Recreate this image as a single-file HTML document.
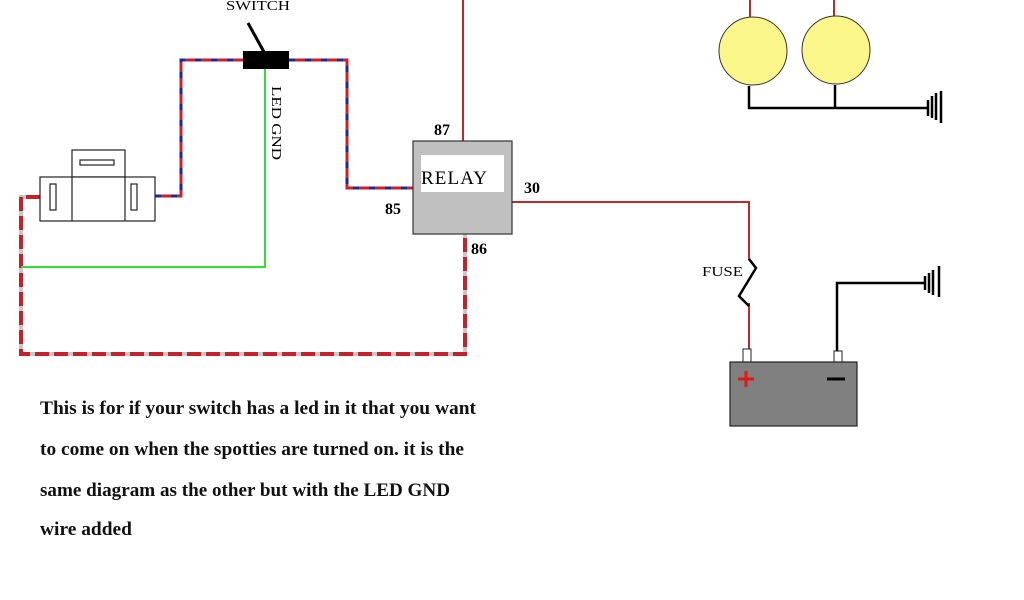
<!DOCTYPE html>
<html><head><style>html,body{margin:0;padding:0;background:#fff}svg{display:block}</style></head><body>
<svg width="1024" height="600" viewBox="0 0 1024 600" xmlns="http://www.w3.org/2000/svg" font-family="Liberation Serif, serif">
<rect width="1024" height="600" fill="#fff"/>
<g stroke="#c0282c" stroke-width="2" fill="none">
<line x1="463" y1="0" x2="463" y2="141"/>
<polyline points="512,202 749,202 749,260"/>
<line x1="749" y1="303" x2="749" y2="349"/>
<line x1="750" y1="0" x2="750" y2="18"/>
<line x1="834" y1="0" x2="834" y2="17"/>
</g>
<g fill="none" stroke-width="3">
<polyline points="155,196 181,196 181,60 243,60" stroke="#c8202a"/>
<polyline points="155,196 181,196 181,60 243,60" stroke="#1a2a9a" stroke-dasharray="6,10"/>
<polyline points="289,60 347,60 347,188 413,188" stroke="#c8202a"/>
<polyline points="289,60 347,60 347,188 413,188" stroke="#1a2a9a" stroke-dasharray="6,10"/>
</g>
<g fill="none" stroke-width="4">
<polyline points="40,197 21,197 21,354 465,354 465,234" stroke="#c8c8c8"/>
<polyline points="40,197 21,197 21,354 465,354 465,234" stroke="#c8202a" stroke-dasharray="14,5"/>
</g>
<polyline points="265,69 265,267 21,267" fill="none" stroke="#33dd33" stroke-width="2"/>
<g fill="#fff" stroke="#222" stroke-width="1.2">
<rect x="72" y="150" width="53" height="27"/>
<rect x="40" y="177" width="115" height="44"/>
<line x1="72" y1="177" x2="72" y2="221"/><line x1="125" y1="177" x2="125" y2="221"/>
<rect x="80" y="160" width="34" height="5"/>
<rect x="50" y="184" width="6" height="26"/>
<rect x="131" y="184" width="6" height="26"/>
</g>
<line x1="248" y1="23" x2="264" y2="52" stroke="#000" stroke-width="3"/>
<rect x="243" y="51" width="46" height="18" fill="#000"/>
<text x="226" y="10" font-size="14" textLength="64" lengthAdjust="spacingAndGlyphs">SWITCH</text>
<text transform="translate(272,86) rotate(90)" font-size="14" textLength="74" lengthAdjust="spacingAndGlyphs">LED GND</text>
<rect x="413" y="141" width="99" height="93" fill="#c0c0c0" stroke="#333" stroke-width="1.2"/>
<rect x="421" y="155" width="83" height="37" fill="#fff"/>
<text x="421" y="184" font-size="19" textLength="66">RELAY</text>
<g font-weight="bold" font-size="16">
<text x="434" y="135">87</text>
<text x="385" y="214">85</text>
<text x="471" y="254">86</text>
<text x="524" y="193">30</text>
</g>
<circle cx="753" cy="51" r="34" fill="#fbf68a" stroke="#333" stroke-width="1"/>
<circle cx="836" cy="50" r="34" fill="#fbf68a" stroke="#333" stroke-width="1"/>
<g stroke="#000" stroke-width="2.5" fill="none">
<polyline points="749,86 749,108 928,108"/>
<line x1="835" y1="85" x2="835" y2="108"/>
<line x1="928" y1="100" x2="928" y2="116"/><line x1="932" y1="96" x2="932" y2="118"/><line x1="936" y1="93" x2="936" y2="120"/><line x1="941" y1="91" x2="941" y2="123"/>
<polyline points="749,259 756,268 739,296 749,306"/>
<polyline points="837,352 837,283 925,283"/>
<line x1="925" y1="276" x2="925" y2="290"/><line x1="929" y1="273" x2="929" y2="293"/><line x1="933" y1="270" x2="933" y2="295"/><line x1="939" y1="266" x2="939" y2="297"/>
</g>
<text x="702" y="276" font-size="14" textLength="41" lengthAdjust="spacingAndGlyphs">FUSE</text>
<rect x="743" y="349" width="8" height="13" fill="#fff" stroke="#222"/>
<rect x="834" y="351" width="8" height="11" fill="#fff" stroke="#222"/>
<rect x="730" y="362" width="127" height="64" fill="#808080" stroke="#222" stroke-width="1.2"/>
<path d="M738,379 H754 M746,371 V387" stroke="#e01818" stroke-width="3"/>
<line x1="827" y1="379" x2="845" y2="379" stroke="#000" stroke-width="3"/>
<g font-weight="bold" font-size="19" fill="#111">
<text x="40" y="414" textLength="436" lengthAdjust="spacingAndGlyphs">This is for if your switch has a led in it that you want</text>
<text x="40" y="455" textLength="424" lengthAdjust="spacingAndGlyphs">to come on when the spotties are turned on. it is the</text>
<text x="40" y="496" textLength="410" lengthAdjust="spacingAndGlyphs">same diagram as the other but with the LED GND</text>
<text x="40" y="535" textLength="92" lengthAdjust="spacingAndGlyphs">wire added</text>
</g>
</svg>
</body></html>
